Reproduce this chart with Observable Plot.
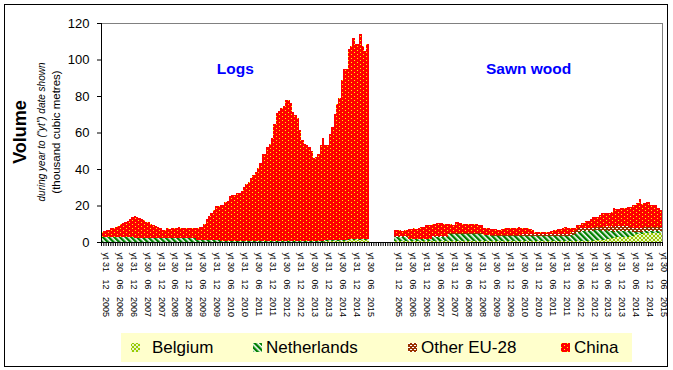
<!DOCTYPE html>
<html><head><meta charset="utf-8">
<script src="https://cdn.jsdelivr.net/npm/d3@7"></script>
<script src="https://cdn.jsdelivr.net/npm/@observablehq/plot@0.6"></script>
<style>
html,body{margin:0;padding:0;background:#fff;}
#wrap{position:relative;width:673px;height:370px;overflow:hidden;font-family:"Liberation Sans",Arial,sans-serif;background:#fff;}
#chart{position:absolute;left:0;top:0;}
#border{position:absolute;left:4px;top:4px;width:662px;height:361px;border:1px solid #000;pointer-events:none;}
#legend{position:absolute;left:121px;top:333px;width:511px;height:29px;background:#FFFFCC;}
.item{position:absolute;top:0;height:29px;line-height:29px;font-size:17px;color:#000;white-space:nowrap;}
.sw{position:absolute;top:10px;}
</style></head>
<body>
<svg width="0" height="0" style="position:absolute">
<defs>
<pattern id="pCN" width="6" height="4" patternUnits="userSpaceOnUse"><rect width="6" height="4" fill="#FF0000"/><rect x="0" y="0" width="1" height="1" fill="#FFFF00"/><rect x="3" y="2" width="1" height="1" fill="#FFFF00"/></pattern>
<pattern id="pNL" width="4" height="4" patternUnits="userSpaceOnUse" patternTransform="rotate(-45)"><rect width="4" height="4" fill="#FFFFFF"/><rect width="2.4" height="4" fill="#008000"/></pattern>
<pattern id="pBE" width="4" height="4" patternUnits="userSpaceOnUse"><rect width="4" height="4" fill="#99CC00"/><path d="M0,0L4,4M4,0L0,4" stroke="#FFFFFF" stroke-width="0.8"/></pattern>
<pattern id="pOT" width="4" height="4" patternUnits="userSpaceOnUse"><rect width="4" height="4" fill="#993300"/><rect x="0" y="0" width="2" height="1" fill="#FFFFFF"/><rect x="2" y="2" width="2" height="1" fill="#FFFFFF"/></pattern>
</defs></svg>
<div id="wrap"><div id="chart"></div><div id="legend"></div><div id="border"></div></div>
<script>
const tickLabels = ["yt 31 12 2005","yt 30 06 2006","yt 31 12 2006","yt 30 06 2007","yt 31 12 2007","yt 30 06 2008","yt 31 12 2008","yt 30 06 2009","yt 31 12 2009","yt 30 06 2010","yt 31 12 2010","yt 30 06 2011","yt 31 12 2011","yt 30 06 2012","yt 31 12 2012","yt 30 06 2013","yt 31 12 2013","yt 30 06 2014","yt 31 12 2014","yt 30 06 2015"];
const seriesNames = ["Belgium","Netherlands","Other EU-28","China"];
const seriesFills = ["url(#pBE)","url(#pNL)","url(#pOT)","url(#pCN)"];
const panelTitles = ["Logs","Sawn wood"];
const yTicks = [0,20,40,60,80,100,120];

const logsBelgium = [
0,0,0,0,0,0,0,0,0,0, 0,0,0,0,0,0,0,0,0,0, 0,0,0,0,0,0,0,0,0,0,
0,0,0,0,0,0,0,0,0,0, 0,0,0,0,0,0,0,0,0,0, 0,0,0,0,0,0,0,0,0,0,
0,0,0,0,0,0,0,0,0,0, 0,0,0,0,0,0,0,0,0,0, 0,0,0,0,0,0,0,0,0,0,
0,0,0,0,0,0,0.5,0.5,0.5,0.5, 0.5,0.5,0.5,0.5,0.5,0.5,1.0,1.0,1.0,1.0, 1.0,1.0,1.0,1.0,1.0];
const logsNetherlands = [
2.8,2.8,2.8,2.8,2.8,2.8,2.8,2.8,2.8,2.8, 2.8,2.8,2.8,2.8,2.2,2.2,2.2,2.2,2.2,2.2,
2.2,2.2,2.2,2.2,2.2,2.2,2.2,2.2,2.2,2.2, 2.2,2.2,2.2,2.2,2.2,2.2,2.2,2.2,2.2,2.2,
2.2,1.0,1.0,1.0,1.0,1.0,1.0,1.0,1.0,1.0, 1.0,0.5,0.5,0.5,0.5,0.5,0.5,0.5,0.5,0.5,
0.5,0.5,0.5,0.5,0.5,0.5,0.5,0.5,0.5,0.5, 0.5,0.5,0.5,0.5,0.5,0.5,0.5,0.8,0.8,0.8,
0.8,0.8,0.8,0.8,0.8,0.8,0.8,0.8,0.8,0.8, 0.8,0.8,0.8,0.8,0.8,0.8,0.8,0.8,0.8,0.8,
0.8,0.6,0.6,0.6,0.6,0.6,0.6,0.6,0.6,0.6, 0.6,0.6,0.6,0.6,0.6];
const logsOther = [
0,0,0,0,0,0,0,0,0,0, 0,0,0,0,0,0,0,0,0,0, 0,0,0,0,0,0,0,0,0,0,
0,0,0,0,0,0,0,0,0,0, 0,0,0,0,0,0,0,0,0,0, 0,0,0,0,0,0,0,0,0,0,
0,0,0,0,0,0,0,0,0,0, 0,0,0,0,0,0,0,0,0,0, 0,0,0,0,0,0,0,0,0,0,
0,0,0,0,0,0,0,0,0,0, 0,0,0,0,0,0,0,0,0,0, 0,0,0,0,0];
const logsChina = [
2.9,3.2,3.8,4.0,5.0,5.0,5.4,6.0,6.9,7.4,
8.0,8.7,9.8,10.9,12.0,11.7,11.1,10.4,9.7,8.9,
8.6,7.8,7.1,6.6,5.8,5.3,4.4,4.4,5.3,4.9,
5.3,5.6,5.6,6.0,5.6,5.6,5.6,5.3,5.6,5.3,
5.6,6.8,7.2,7.4,8.9,11.4,13.2,15.0,16.5,18.7,
18.7,19.8,19.8,21.2,22.1,24.7,25.3,25.3,26.2,26.2,
27.4,29.5,31.3,32.5,34.7,36.2,38.0,39.9,42.6,47.7,
47.7,51.4,53.2,56.3,64.2,70.0,71.4,72.5,73.7,77.0,
77.0,75.2,70.6,68.8,67.0,60.6,55.1,52.9,52.4,51.1,
49.1,45.4,46.0,47.2,52.4,56.0,51.9,51.9,57.7,61.5,
68.7,74.5,77.6,87.7,93.5,93.5,104.0,105.8,110.4,106.9,
106.9,112.4,105.8,103.1,106.9];

const sawnBelgium = [
0.6,0.6,0.6,0.6,0.6,0.6,0.6,0.6,0.6,0.6, 0.6,0.4,0.4,0.4,0.4,0.4,0.4,0.4,0.4,0.4,
0.4,0.4,0.4,0.4,0.4,0.4,0.4,0.4,0.4,0.4, 0.4,0.4,0.4,0.4,0.4,0.4,0.4,0.4,0.4,0.4,
0.4,0.3,0.3,0.3,0.3,0.3,0.3,0.3,0.3,0.3, 0.3,0.3,0.3,0.3,0.3,0.3,0.3,0.3,0.3,0.3,
0.3,0.3,0.3,0.3,0.3,0.3,0.3,0.3,0.3,0.3, 0.3,0.3,0.3,0.3,0.3,0.3,0.6,0.6,0.6,0.6,
0.6,0.6,0.6,0.6,0.6,0.6,1.0,1.0,1.0,1.0, 1.0,1.5,1.5,2.0,2.0,2.6,2.6,2.6,2.6,2.6,
2.6,3.4,3.4,4.2,4.2,4.2,4.2,4.8,4.8,4.8, 4.8,4.8,4.8,4.8,4.8];
const sawnNetherlands = [
2.2,2.2,2.2,2.2,2.2,2.2,1.0,1.0,1.0,1.0, 1.0,1.0,1.0,1.0,1.0,1.0,2.5,2.5,2.5,2.5,
2.5,2.5,2.5,4.0,4.0,4.0,4.0,4.0,4.0,4.0, 4.0,4.0,4.0,4.0,4.0,4.0,4.0,4.0,3.2,3.2,
3.2,3.2,3.2,3.2,3.2,3.2,3.2,3.2,3.2,3.2, 3.2,3.2,3.2,3.2,3.2,3.2,3.2,3.2,3.2,2.8,
2.8,2.8,2.8,2.8,2.8,2.8,2.8,2.8,2.8,2.8, 2.8,2.8,2.8,2.8,2.8,2.8,3.2,3.8,4.4,5.0,
5.4,5.4,5.4,5.4,5.4,5.4,5.4,5.4,5.4,5.2, 5.2,5.2,4.6,4.0,3.4,3.4,3.4,3.4,3.4,3.4,
3.4,2.6,2.0,1.2,1.2,1.2,1.2,1.2,1.2,1.2, 1.2,1.2,1.2,1.2,1.2];
const sawnOther = [
0.3,0.3,0.3,0.3,0.3,0.3,0.3,0.3,0.3,0.3, 0.3,0.3,0.3,0.3,0.3,0.3,0.3,0.3,0.3,0.3,
0.3,0.5,0.5,0.5,0.5,0.5,0.5,0.5,0.5,0.5, 0.5,0.5,0.5,0.5,0.5,0.5,0.5,0.5,0.5,0.5,
0.5,0.6,0.6,0.6,0.6,0.6,0.6,0.6,0.6,0.6, 0.6,0.6,0.6,0.6,0.6,1.0,1.0,1.0,1.0,1.4,
1.4,1.4,1.4,1.4,1.4,1.4,1.4,1.4,1.4,1.4, 1.4,1.4,1.4,1.4,1.4,1.4,1.8,1.8,1.8,1.8,
1.8,1.8,1.8,1.8,1.8,1.8,2.0,2.0,2.0,2.0, 2.0,2.0,2.0,2.8,2.8,2.8,2.8,2.8,2.8,2.8,
2.8,2.4,2.4,2.4,2.4,2.4,2.4,2.4,2.4,2.4, 2.4,2.4,2.4,2.4,2.4];
const sawnChina = [
3.5,3.3,3.5,3.1,3.5,3.3,5.0,5.0,5.6,5.2,
5.6,6.3,6.7,7.4,7.6,7.8,6.7,6.5,7.0,7.2,
7.0,6.5,6.3,5.1,4.8,4.4,5.9,6.1,5.7,5.1,
4.8,4.8,5.1,5.1,5.0,5.0,4.4,4.4,3.8,3.8,
3.8,3.2,3.0,3.0,2.7,2.7,3.2,3.6,3.6,3.6,
3.6,3.6,3.8,4.1,3.8,3.0,3.2,3.2,2.8,2.1,
1.2,1.2,1.2,1.2,1.2,1.2,1.2,1.5,2.1,2.1,
2.4,2.4,3.0,3.9,3.0,3.0,2.3,1.7,2.5,1.9,
2.4,2.4,3.9,3.9,4.6,6.1,5.5,5.5,6.4,7.5,
7.5,7.0,7.6,7.7,10.2,9.1,9.1,9.6,9.6,9.6,
10.6,11.0,12.5,12.5,13.4,15.6,12.8,12.8,13.3,13.3,
11.9,11.9,11.9,10.0,9.1];

const font = '"Liberation Sans", Arial, sans-serif';
const n = logsChina.length;
const gapSlots = 11;
const totalSlots = 2 * n + gapSlots;
const panels = [
  {title: panelTitles[0], offset: 0, series: [logsBelgium, logsNetherlands, logsOther, logsChina]},
  {title: panelTitles[1], offset: n + gapSlots, series: [sawnBelgium, sawnNetherlands, sawnOther, sawnChina]}
];
const rows = [];
for (const p of panels) for (let i = 0; i < n; i++) seriesNames.forEach((s, k) => rows.push({x1: p.offset + i, x2: p.offset + i + 1, series: s, value: p.series[k][i]}));
const labelRows = [];
for (const p of panels) tickLabels.forEach((t, k) => labelRows.push({pos: p.offset + k * 6 + 0.5, text: t.replace(/ (\d\d) (\d{4})$/, "\u00A0\u00A0\u00A0$1\u00A0\u00A0\u00A0$2")}));
const titleRows = panels.map(p => ({pos: p.offset + n / 2, text: p.title}));
const boundaries = d3.range(0, totalSlots + 1);

const chart = Plot.plot({
  width: 673, height: 330,
  marginTop: 23, marginBottom: 88, marginLeft: 101, marginRight: 11,
  style: {fontFamily: font, background: "transparent", color: "black"},
  x: {domain: [0, totalSlots]},
  y: {domain: [0, 120]},
  color: {domain: seriesNames, range: seriesFills},
  marks: [
    Plot.rectY(rows, {x1: "x1", x2: "x2", y: "value", fill: "series", shapeRendering: "crispEdges"}),
    Plot.ruleY([120], {stroke: "#808080"}),
    Plot.ruleX([totalSlots], {stroke: "#808080"}),
    Plot.ruleX([0], {stroke: "black"}),
    Plot.ruleY([0], {stroke: "black"}),
    Plot.axisY(yTicks, {tickSize: 4, tickPadding: 8, fontSize: 13, label: null, stroke: "black", fill: "black"}),
    Plot.axisX(boundaries, {tickSize: 4, tickFormat: () => "", label: null, stroke: "black"}),
    Plot.text(labelRows, {x: "pos", text: "text", frameAnchor: "bottom", rotate: 90, textAnchor: "start", dy: 10, fontSize: 9, fill: "black"}),
    Plot.text(titleRows, {x: "pos", text: "text", frameAnchor: "top", dy: 39, fill: "#0000FF", fontWeight: "bold", fontSize: 15.5})
  ]
});
document.getElementById("chart").appendChild(chart);

const svg = d3.select(chart);
const yTitles = [
  {text: "Volume", x: 20, size: 18, weight: "bold", style: "normal"},
  {text: "during year to (\u201Cyt\u201D) date shown", x: 41, size: 10, weight: "normal", style: "italic"},
  {text: "(thousand cubic metres)", x: 56, size: 11.5, weight: "normal", style: "normal"}
];
for (const t of yTitles) {
  svg.append("text").attr("transform", `translate(${t.x},132) rotate(-90)`)
    .attr("text-anchor", "middle").attr("dominant-baseline", "central")
    .attr("font-family", font).attr("font-size", t.size).attr("font-weight", t.weight)
    .attr("font-style", t.style).attr("fill", "black").text(t.text);
}

const legendPos = [{sw: 10, tx: 31}, {sw: 132, tx: 145}, {sw: 287, tx: 300}, {sw: 440, tx: 453}];
const legend = document.getElementById("legend");
seriesNames.forEach((s, k) => {
  const sw = document.createElementNS("http://www.w3.org/2000/svg", "svg");
  sw.setAttribute("width", 9); sw.setAttribute("height", 9);
  sw.setAttribute("class", "sw"); sw.style.left = legendPos[k].sw + "px";
  sw.innerHTML = `<rect width="9" height="9" fill="${seriesFills[k]}"/>`;
  legend.appendChild(sw);
  const it = document.createElement("div");
  it.className = "item"; it.style.left = legendPos[k].tx + "px"; it.textContent = s;
  legend.appendChild(it);
});
</script>
</body></html>
